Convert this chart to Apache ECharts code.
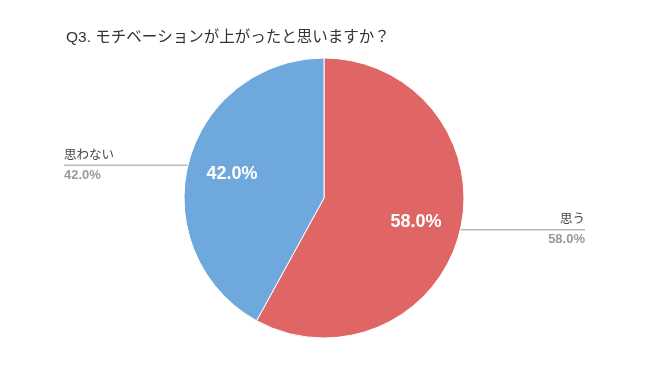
<!DOCTYPE html>
<html><head><meta charset="utf-8">
<script src="https://cdn.jsdelivr.net/npm/echarts@6/dist/echarts.min.js"></script>
<style>html,body{margin:0;padding:0;background:#fff}#c{width:650px;height:365px}</style>
</head><body><div id="c"></div>
<script>
const titleText = 'Q3. モチベーションが上がったと思いますか？';
const categories = ['思う', '思わない'];
const values = [58.0, 42.0];
const colors = ['#e06666', '#6fa8dc'];

const data = categories.map((c, i) => ({name: c, value: values[i], itemStyle: {color: colors[i]}}));
const chart = echarts.init(document.getElementById('c'));
const FONT = '"Liberation Sans", Arial, "Noto Sans CJK JP", sans-serif';
const W = 650;
chart.setOption({
  animation: false,
  title: {
    text: titleText, left: 61, top: 25,
    textStyle: {fontFamily: FONT, fontSize: 15.5, fontWeight: 'normal', color: '#333'}
  },
  series: [
    {
      type: 'pie', center: [324, 198], radius: [0, 140], startAngle: 90, clockwise: true,
      data: data,
      itemStyle: {borderColor: '#fff', borderWidth: 1},
      label: {
        show: true,
        formatter: p => '{n|' + p.name + '}\n{v|' + p.percent.toFixed(1) + '%}',
        rich: {
          n: {fontFamily: FONT, fontSize: 12.5, color: '#444', lineHeight: 20},
          v: {fontFamily: FONT, fontSize: 13, fontWeight: 'bold', color: '#9a9a9a', lineHeight: 20}
        }
      },
      labelLine: {show: true, lineStyle: {color: '#9a9a9a', width: 1}},
      labelLayout: function (params) {
        const p0 = params.labelLinePoints[0];
        const right = p0[0] > 324;
        const x0 = right ? p0[0] - 5 : p0[0] + 5;
        const xEnd = right ? W - 65 : 64;
        const ly = right ? p0[1] - 3 : p0[1] + 2;
        return {
          x: xEnd, y: ly, align: right ? 'right' : 'left', verticalAlign: 'middle',
          labelLinePoints: [[x0, ly], [x0, ly], [xEnd, ly]]
        };
      }
    },
    {
      type: 'pie', center: [324, 198], radius: [44, 140], startAngle: 90, clockwise: true,
      silent: true,
      data: data.map(d => ({name: d.name, value: d.value})),
      itemStyle: {color: 'transparent', borderWidth: 0},
      label: {
        show: true, position: 'inside',
        formatter: p => p.percent.toFixed(1) + '%',
        fontFamily: FONT, fontSize: 18, fontWeight: 'bold', color: '#fff'
      },
      labelLine: {show: false}
    }
  ]
});
</script></body></html>
